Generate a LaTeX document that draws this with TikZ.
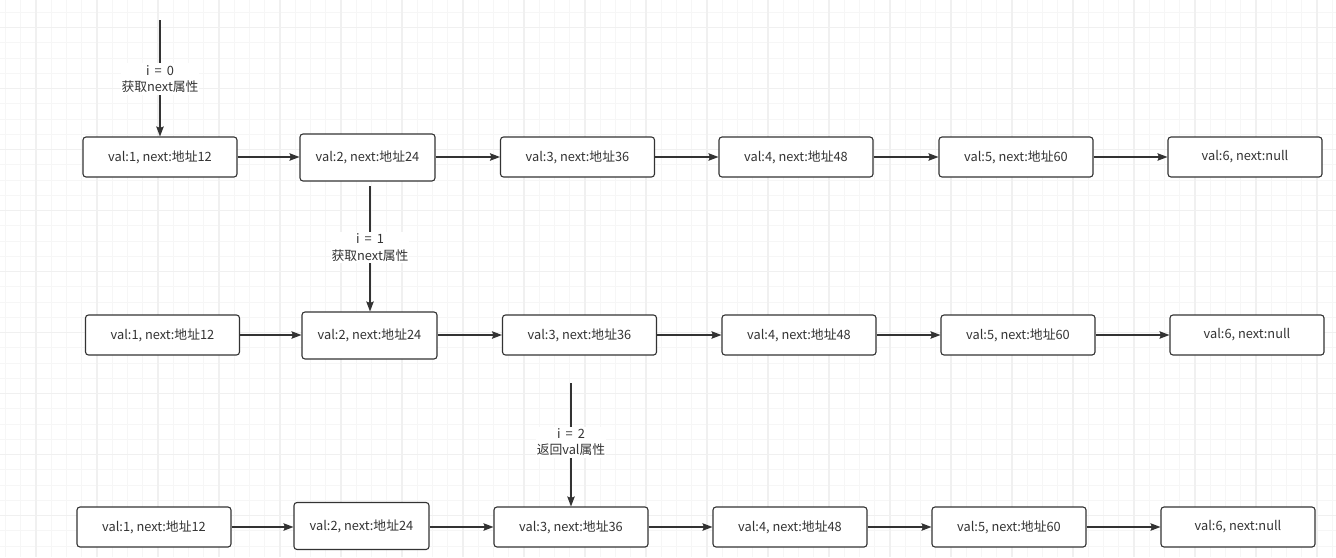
\documentclass[tikz,border=0pt]{standalone}
\usepackage{fontspec}
\setmainfont{Noto Sans CJK SC}
\usetikzlibrary{arrows.meta}
\definecolor{ink}{HTML}{333333}
\definecolor{gridminor}{HTML}{F6F6F6}
\definecolor{gridmajor}{HTML}{F0F0F0}
\tikzset{
  box/.style={draw=ink, line width=1.1pt, rounded corners=3pt, fill=white, text=ink,
    minimum height=40pt, inner sep=0pt, font=\fontsize{12.8}{15}\selectfont},
  wide/.style={minimum width=154pt},
  narrow/.style={minimum width=135pt, minimum height=47pt},
  link/.style={draw=ink, line width=1.1pt, -{Stealth[length=10pt,width=7.5pt,inset=1.5pt]}},
  lbl/.style={fill=white, text=ink, align=center, inner xsep=1pt, inner ysep=2pt,
    font=\fontsize{12.8}{16.5}\selectfont},
}
\begin{document}
\begin{tikzpicture}[x=1pt,y=-1pt]
\useasboundingbox (0,0) rectangle (1336,557);
\fill[white] (0,0) rectangle (1336,557);
% grid
\foreach \i in {0,...,88} {
  \pgfmathsetmacro{\gx}{5.5+15.25*\i}
  \draw[gridminor, line width=1pt] (\gx,0) -- (\gx,557);
}
\foreach \i in {0,...,37} {
  \pgfmathsetmacro{\gy}{12.45+15.25*\i}
  \draw[gridminor, line width=1pt] (0,\gy) -- (1336,\gy);
}
\foreach \i in {0,...,22} {
  \pgfmathsetmacro{\gx}{36+61*\i}
  \draw[gridmajor, line width=1.2pt] (\gx,0) -- (\gx,557);
}
\foreach \i in {0,...,9} {
  \pgfmathsetmacro{\gy}{27.7+61*\i}
  \draw[gridmajor, line width=1.2pt] (0,\gy) -- (1336,\gy);
}
% row 1
\node[box,wide]   (a1) at (160,157)   {val:1, next:地址12};
\node[box,narrow] (a2) at (367.5,157.5) {val:2, next:地址24};
\node[box,wide]   (a3) at (577.5,157) {val:3, next:地址36};
\node[box,wide]   (a4) at (796,157)   {val:4, next:地址48};
\node[box,wide]   (a5) at (1016,157)  {val:5, next:地址60};
\node[box,wide]   (a6) at (1245,157)  {val:6, next:null};
% row 2
\node[box,wide]   (b1) at (162.5,335) {val:1, next:地址12};
\node[box,narrow] (b2) at (369.5,335.5) {val:2, next:地址24};
\node[box,wide]   (b3) at (579.5,335) {val:3, next:地址36};
\node[box,wide]   (b4) at (799,335)   {val:4, next:地址48};
\node[box,wide]   (b5) at (1018,335)  {val:5, next:地址60};
\node[box,wide]   (b6) at (1247,335)  {val:6, next:null};
% row 3
\node[box,wide]   (c1) at (154,527)   {val:1, next:地址12};
\node[box,narrow] (c2) at (361.5,526) {val:2, next:地址24};
\node[box,wide]   (c3) at (571,527)   {val:3, next:地址36};
\node[box,wide]   (c4) at (790,527)   {val:4, next:地址48};
\node[box,wide]   (c5) at (1009,527)  {val:5, next:地址60};
\node[box,wide]   (c6) at (1238,527)  {val:6, next:null};
% horizontal links
\foreach \r in {a,b,c} {
  \draw[link] (\r1.east) -- (\r2.west |- \r1.east);
  \draw[link] (\r2.east |- \r3.west) -- (\r3.west);
  \draw[link] (\r3) -- (\r4);
  \draw[link] (\r4) -- (\r5);
  \draw[link] (\r5) -- (\r6);
}
% vertical pointers
\coordinate (p0) at (160,20);
\coordinate (p1) at (370,186);
\coordinate (p2) at (571,383);
\draw[link] (p0) -- (p0 |- a1.north) node[lbl, pos=0.5, yshift=-1pt] {i\,\ =\,\ 0\\获取next属性};
\draw[link] (p1) -- (p1 |- b2.north) node[lbl, pos=0.49] {i\,\ =\,\ 1\\获取next属性};
\draw[link] (p2) -- (p2 |- c3.north) node[lbl, pos=0.48] {i\,\ =\,\ 2\\返回val属性};
\end{tikzpicture}
\end{document}
